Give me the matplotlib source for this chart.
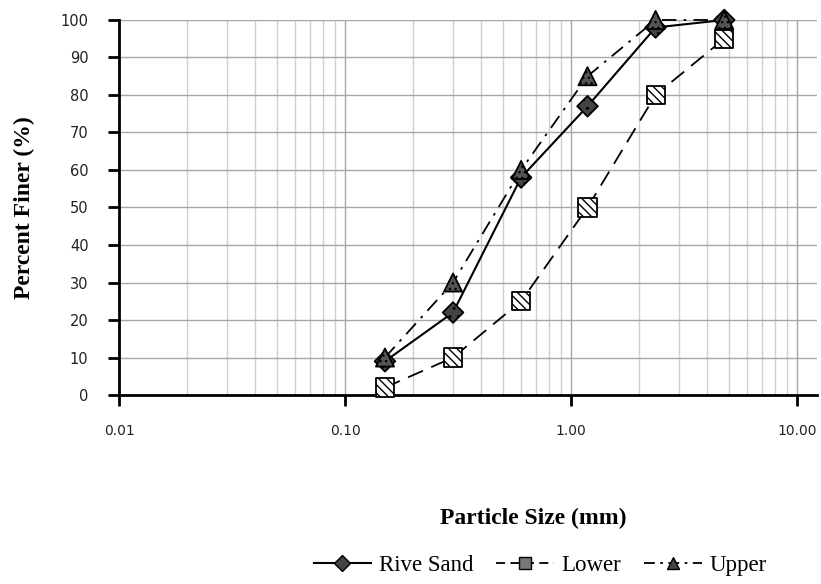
import matplotlib
matplotlib.use("Agg")
import matplotlib.pyplot as plt
from matplotlib.ticker import FixedLocator, LogLocator, NullFormatter
from matplotlib.lines import Line2D

sizes = [0.15, 0.3, 0.6, 1.18, 2.36, 4.75]
rive_sand = [9, 22, 58, 77, 98, 100]
lower = [2, 10, 25, 50, 80, 95]
upper = [10, 30, 60, 85, 100, 100]
xticks = [0.01, 0.1, 1, 10]
xticklabels = ["0.01", "0.10", "1.00", "10.00"]
yticks = list(range(0, 101, 10))

fig = plt.figure(figsize=(8.21, 5.84), dpi=100)
ax = fig.add_axes([0.145, 0.3236, 0.85, 0.6422])
ax.set_xscale("log")
ax.set_xlim(0.01, 12.2)
ax.set_ylim(0, 100)

ax.xaxis.set_major_locator(FixedLocator(xticks))
ax.xaxis.set_minor_locator(LogLocator(base=10, subs=range(2, 10), numticks=20))
ax.xaxis.set_minor_formatter(NullFormatter())
ax.set_xticklabels(xticklabels)
ax.set_yticks(yticks)

ax.grid(True, which="major", axis="x", color="#a6a6a6", lw=1.0)
ax.grid(True, which="minor", axis="x", color="#cfcfcf", lw=1.0)
ax.grid(True, which="major", axis="y", color="#a6a6a6", lw=1.0)
ax.set_axisbelow(True)

for s in ["top", "right"]:
    ax.spines[s].set_visible(False)
for s in ["left", "bottom"]:
    ax.spines[s].set_linewidth(2)
    ax.spines[s].set_color("black")

ax.tick_params(axis="both", which="major", length=8, width=2, direction="out",
               labelsize=10.5, colors="black")
ax.tick_params(axis="x", which="major", pad=13, labelsize=10)
ax.tick_params(axis="x", which="minor", length=0)
ax.tick_params(axis="y", pad=14)
for lab in ax.get_xticklabels() + ax.get_yticklabels():
    lab.set_color("#222222")

serif = "Liberation Serif"
ax.set_ylabel("Percent Finer (%)", fontfamily=serif, fontweight="bold", fontsize=17, labelpad=18)
ax.set_xlabel("Particle Size (mm)", fontfamily=serif, fontweight="bold", fontsize=17)
ax.xaxis.set_label_coords(0.593, -0.30)

# lines
ax.plot(sizes, upper, color="black", lw=1.3, ls=(0, (8, 4, 1.5, 4)), zorder=3, clip_on=False)
ax.plot(sizes, lower, color="black", lw=1.3, ls=(0, (9, 5)), zorder=3, clip_on=False)
ax.plot(sizes, rive_sand, color="black", lw=1.5, ls="-", zorder=3, clip_on=False)

# markers with textures
ax.scatter(sizes, lower, marker="s", s=170, facecolor="white", edgecolor="black",
           hatch="\\\\\\\\", lw=1.3, zorder=4, clip_on=False)
ax.scatter(sizes, rive_sand, marker="D", s=110, facecolor="#444444", edgecolor="black",
           hatch="..", lw=1.3, zorder=5, clip_on=False)
ax.scatter(sizes, upper, marker="^", s=170, facecolor="#555555", edgecolor="black",
           hatch="...", lw=1.3, zorder=6, clip_on=False)

handles = [
    Line2D([], [], color="black", lw=1.5, ls="-", marker="D", markersize=8,
           markerfacecolor="#444444", markeredgecolor="black"),
    Line2D([], [], color="black", lw=1.3, ls=(0, (5, 3)), marker="s", markersize=9,
           markerfacecolor="#777777", markeredgecolor="black"),
    Line2D([], [], color="black", lw=1.3, ls=(0, (6, 3, 1.5, 3)), marker="^", markersize=9,
           markerfacecolor="#444444", markeredgecolor="black"),
]
fig.legend(handles, ["Rive Sand", "Lower", "Upper"], loc="center",
           bbox_to_anchor=(0.658, 0.032), ncol=3, frameon=False,
           prop={"family": serif, "size": 16.5}, handlelength=2.5,
           columnspacing=1.0, handletextpad=0.35)

fig.savefig("out.png", dpi=100)
